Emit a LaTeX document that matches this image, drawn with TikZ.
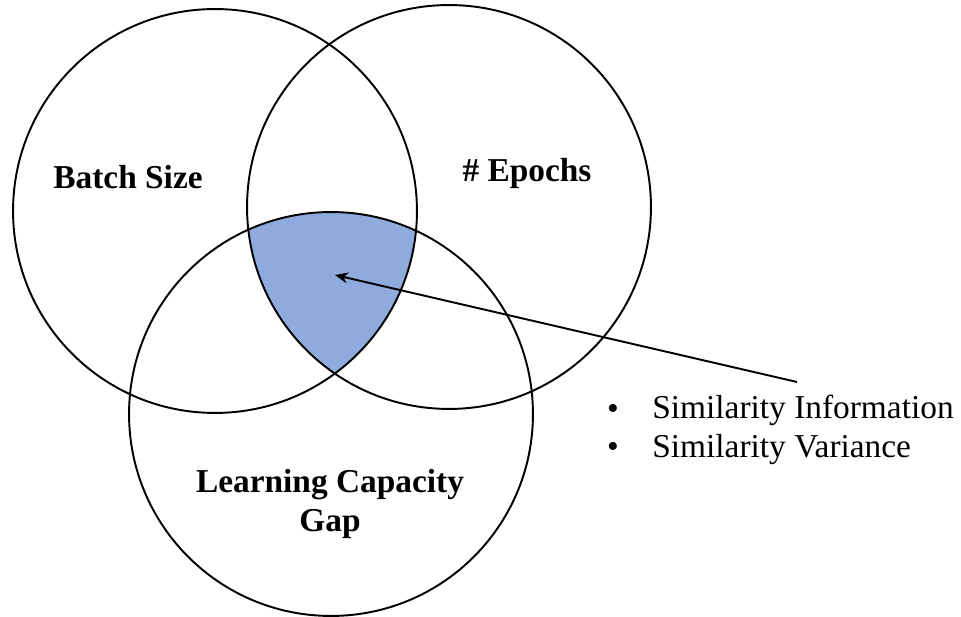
\documentclass[tikz,border=0pt]{standalone}
\usepackage{fontspec}
\setmainfont{Liberation Serif}
\usetikzlibrary{arrows.meta}
\definecolor{coreblue}{HTML}{8FAADC}
\begin{document}
\begin{tikzpicture}[x=0.02cm,y=-0.02cm,
  setcircle/.style={circle,draw=black,line width=1.1pt,minimum size=8.08cm,inner sep=0pt},
  setlabel/.style={font=\fontsize{19}{23}\selectfont\bfseries,inner sep=0pt,anchor=base},
  itemtext/.style={font=\fontsize{19}{23}\selectfont,inner sep=0pt,anchor=base west},
  itemdot/.style={font=\fontsize{19}{23}\selectfont,inner sep=0pt}]
\useasboundingbox (0,0) rectangle (961,617);
\fill[white] (0,0) rectangle (961,617);

% centres of the three sets
\coordinate (cA) at (215,211);
\coordinate (cB) at (449,207);
\coordinate (cC) at (331,414);

% shaded common region of all three sets
\begin{scope}
  \clip (cA) circle[radius=4.04cm];
  \clip (cB) circle[radius=4.04cm];
  \fill[coreblue] (cC) circle[radius=4.04cm];
\end{scope}

% the three sets
\node[setcircle] (batch) at (cA) {};
\node[setcircle] (epochs) at (cB) {};
\node[setcircle] (gap) at (cC) {};

% set labels
\node[setlabel] (batchlbl) at (128,189) {Batch Size};
\node[setlabel] (epochslbl) at (527,182) {\# Epochs};
\node[setlabel] (gaplbl1) at (330,493) {Learning Capacity};
\node[setlabel] (gaplbl2) at (330,532) {Gap};

% bullet list
\node[itemdot] (dot1) at (613,412) {\textbullet};
\node[itemdot] (dot2) at (613,450) {\textbullet};
\node[itemtext] (item1) at (652,419) {Similarity Information};
\node[itemtext] (item2) at (652,458) {Similarity Variance};

% pointer from the list into the shared region
\coordinate (tail) at (797,382);
\coordinate (tip) at (335,275);
\draw[line width=1.1pt,-{Stealth[length=2.6mm,width=2.2mm]}] (tail) -- (tip);
\end{tikzpicture}
\end{document}
